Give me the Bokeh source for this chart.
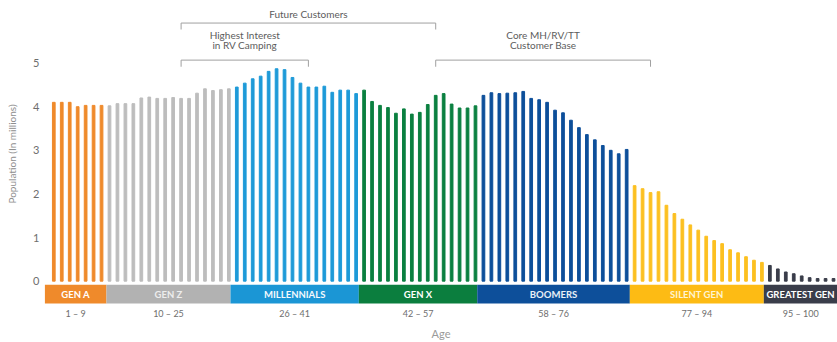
from bokeh.plotting import figure
from bokeh.models import ColumnDataSource, Range1d, FixedTicker, LinearAxis
from bokeh.core.properties import value
from bokeh.embed import file_html
from bokeh.resources import INLINE

# Population by single year of age (millions), grouped by generation
gen_a = [4.10, 4.10, 4.10, 4.00, 4.03, 4.03, 4.03]
gen_z = [4.02, 4.07, 4.07, 4.07, 4.20, 4.22, 4.19, 4.19, 4.21, 4.19, 4.19, 4.31,
         4.41, 4.37, 4.39, 4.41]
millennials = [4.45, 4.54, 4.64, 4.70, 4.81, 4.87, 4.85, 4.67, 4.54, 4.45, 4.45,
               4.47, 4.33, 4.38, 4.38, 4.30]
gen_x = [4.38, 4.12, 4.03, 3.98, 3.85, 3.95, 3.83, 3.87, 4.05, 4.26, 4.30, 4.06,
         3.97, 3.97, 4.02]
boomers = [4.26, 4.32, 4.30, 4.31, 4.32, 4.35, 4.19, 4.16, 4.10, 3.92, 3.86, 3.69,
           3.52, 3.36, 3.24, 3.11, 3.00, 2.92, 3.02]
silent_gen = [2.19, 2.12, 2.03, 2.05, 1.74, 1.55, 1.42, 1.29, 1.17, 1.03, 0.93,
              0.86, 0.72, 0.65, 0.56, 0.48, 0.43]
greatest_gen = [0.36, 0.28, 0.21, 0.17, 0.12, 0.08, 0.06, 0.06, 0.06]

gen_names = ["GEN A", "GEN Z", "MILLENNIALS", "GEN X", "BOOMERS", "SILENT GEN",
             "GREATEST GEN"]
age_ranges = ["1 \u2013 9", "10 \u2013 25", "26 \u2013 41", "42 \u2013 57",
              "58 \u2013 76", "77 \u2013 94", "95 \u2013 100"]
# generation boundaries along the bar axis (bar slots)
gen_edges = [-1.13, 6.62, 22.21, 38.34, 53.22, 72.40, 89.24, 98.5]
y_ticks = [0, 1, 2, 3, 4, 5]

gen_colors = ["#EF8A2B", "#B2B2B2", "#1B96D5", "#0B7E3E", "#0D4F9A", "#FDBB14", "#3A3D4A"]
bar_colors = ["#EF8A2B", "#BDBDBD", "#1E9AD8", "#0B8040", "#0D4F9A", "#FCC021", "#3A3D4A"]
label_colors = ["#FFFFFF", "#EDEDED", "#F4F9FD", "#FFFFFF", "#E9EFF7", "#FFF4D2", "#FFFFFF"]

series = [gen_a, gen_z, millennials, gen_x, boomers, silent_gen, greatest_gen]

xs, tops, cols = [], [], []
pos = 0
for vals, c in zip(series, bar_colors):
    for v in vals:
        xs.append(pos)
        tops.append(v)
        cols.append(c)
        pos += 1
bars = ColumnDataSource(dict(x=xs, top=tops, color=cols))

centers = [(a + b) / 2 for a, b in zip(gen_edges[:-1], gen_edges[1:])]

FONT = "Lato"

p = figure(width=837, height=342,
           x_range=Range1d(-1.169, 98.5), y_range=Range1d(-0.604, 6.435),
           x_axis_type=None, output_backend="svg", toolbar_location=None,
           min_border_left=44, min_border_right=0, min_border_top=0,
           min_border_bottom=33)
p.outline_line_color = None
p.ygrid.grid_line_color = None
p.background_fill_color = "white"
p.border_fill_color = "white"

# y axis
ya = p.yaxis[0]
ya.ticker = FixedTicker(ticks=y_ticks)
ya.axis_line_color = None
ya.major_tick_line_color = None
ya.minor_tick_line_color = None
ya.major_tick_out = 0
ya.major_label_standoff = 5
ya.major_label_text_font = FONT
ya.major_label_text_font_size = "11px"
ya.major_label_text_color = "#6E6E6E"
ya.axis_label = "Population (In millions)"
ya.axis_label_standoff = 12
ya.axis_label_text_font = FONT
ya.axis_label_text_font_size = "10px"
ya.axis_label_text_font_style = "normal"
ya.axis_label_text_color = "#8E8E8E"

# x axis: age range under each generation band
xa = LinearAxis(ticker=FixedTicker(ticks=centers),
                major_label_overrides={c: t for c, t in zip(centers, age_ranges)},
                axis_line_color=None, major_tick_line_color=None,
                minor_tick_line_color=None, major_tick_out=0, major_tick_in=0,
                major_label_standoff=0,
                major_label_text_font=FONT, major_label_text_font_size="9px",
                major_label_text_color="#6E6E6E",
                axis_label="Age", axis_label_standoff=5,
                axis_label_text_font=FONT, axis_label_text_font_size="11px",
                axis_label_text_font_style="normal",
                axis_label_text_color="#9A9A9A")
p.add_layout(xa, "below")

# bars
p.vbar(x="x", top="top", bottom=0, width=0.34, color="color", source=bars)

# generation bands
p.quad(left=gen_edges[:-1], right=gen_edges[1:], top=-0.08, bottom=-0.513,
       color=gen_colors, line_color=None)
p.text(x=centers, y=[-0.296] * len(centers), text=gen_names,
       text_color=label_colors, text_align="center", text_baseline="middle",
       text_font=value(FONT), text_font_style="bold", text_font_size="9.5px")

# brackets above the bars
bracket_color = "#A0A0A0"
p.multi_line(xs=[[16, 16, 48, 48], [16, 16, 32, 32], [48, 48, 75, 75]],
             ys=[[5.77, 5.918, 5.918, 5.77],
                 [4.916, 5.068, 5.068, 4.916],
                 [4.916, 5.068, 5.068, 4.916]],
             line_color=bracket_color, line_width=1)
p.text(x=[32, 24, 24, 61.5, 61.5],
       y=[6.13, 5.638, 5.426, 5.638, 5.426],
       text=["Future Customers", "Highest Interest", "in RV Camping",
             "Core MH/RV/TT", "Customer Base"],
       text_color="#5C5C5C", text_align="center", text_baseline="middle",
       text_font=value(FONT), text_font_size="10px")

open("out.html", "w").write(file_html(p, INLINE))
